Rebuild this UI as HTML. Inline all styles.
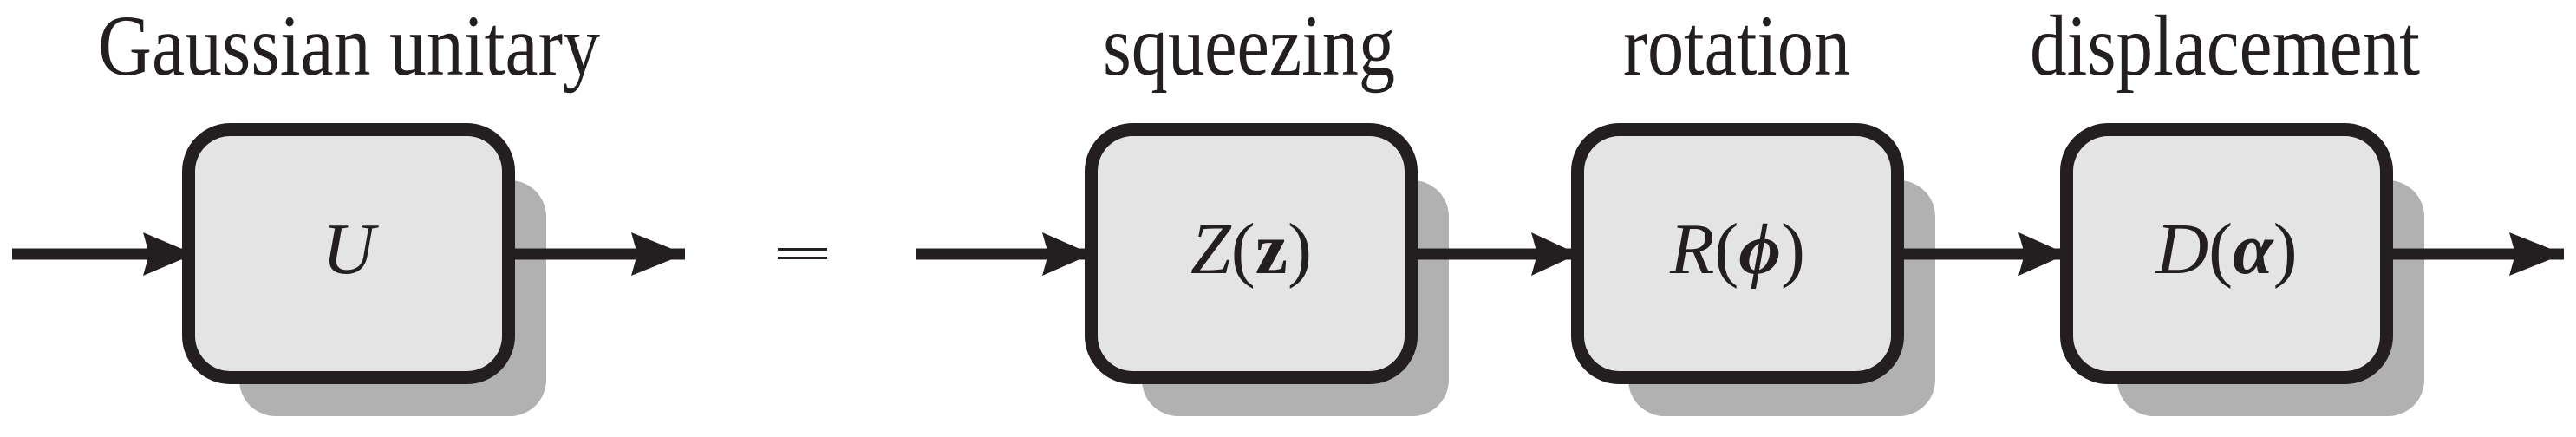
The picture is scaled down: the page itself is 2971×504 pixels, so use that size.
<!DOCTYPE html>
<html><head><style>html,body{margin:0;padding:0;background:#fff}svg{display:block}text{font-family:"Liberation Serif","Times New Roman",serif}</style></head>
<body>
<svg width="2971" height="504" viewBox="0 0 2971 504" xmlns="http://www.w3.org/2000/svg">
<defs>
<g id="b">
<rect x="66" y="66" width="354" height="272" rx="42" fill="#b1b1b1"/>
<rect x="7.5" y="7.5" width="369" height="286" rx="48" fill="#e4e4e4" stroke="#231f20" stroke-width="15"/>
</g>
</defs>
<g fill="#231f20">
<text x="113" y="86" font-size="100" textLength="579" lengthAdjust="spacingAndGlyphs">Gaussian unitary</text>
<text x="1272" y="86" font-size="100" textLength="337" lengthAdjust="spacingAndGlyphs">squeezing</text>
<text x="1872" y="86" font-size="100" textLength="262" lengthAdjust="spacingAndGlyphs">rotation</text>
<text x="2341" y="86" font-size="100" textLength="450" lengthAdjust="spacingAndGlyphs">displacement</text>
</g>
<use href="#b" x="210" y="142"/>
<use href="#b" x="1251" y="142"/>
<use href="#b" x="1812" y="142"/>
<use href="#b" x="2376" y="142"/>
<g stroke="#231f20" stroke-width="13">
<line x1="14" y1="293" x2="218" y2="293"/>
<line x1="587" y1="293" x2="790" y2="293"/>
<line x1="1056" y1="293" x2="1259" y2="293"/>
<line x1="1628" y1="293" x2="1820" y2="293"/>
<line x1="2189" y1="293" x2="2384" y2="293"/>
<line x1="2753" y1="293" x2="2957" y2="293"/>
</g>
<g fill="#231f20">
<polygon points="165,268 224,293 165,318 172,293"/>
<polygon points="728,268 790,293 728,318 735,293"/>
<polygon points="1202,268 1259,293 1202,318 1209,293"/>
<polygon points="1766,268 1820,293 1766,318 1773,293"/>
<polygon points="2328,268 2384,293 2328,318 2335,293"/>
<polygon points="2894,268 2957,293 2894,318 2901,293"/>
<rect x="897" y="286" width="57" height="3"/>
<rect x="897" y="296" width="57" height="3"/>
</g>
<g fill="#231f20" font-size="84" text-anchor="middle">
<text x="402" y="315" font-style="italic">U</text>
<text x="1443" y="315"><tspan font-style="italic">Z</tspan>(<tspan font-weight="bold">z</tspan>)</text>
<text x="2004" y="315"><tspan font-style="italic">R</tspan>(<tspan font-weight="bold" font-style="italic">ϕ</tspan>)</text>
<text x="2568" y="315"><tspan font-style="italic">D</tspan>(<tspan font-weight="bold" font-style="italic">α</tspan>)</text>
</g>
</svg>
</body></html>
